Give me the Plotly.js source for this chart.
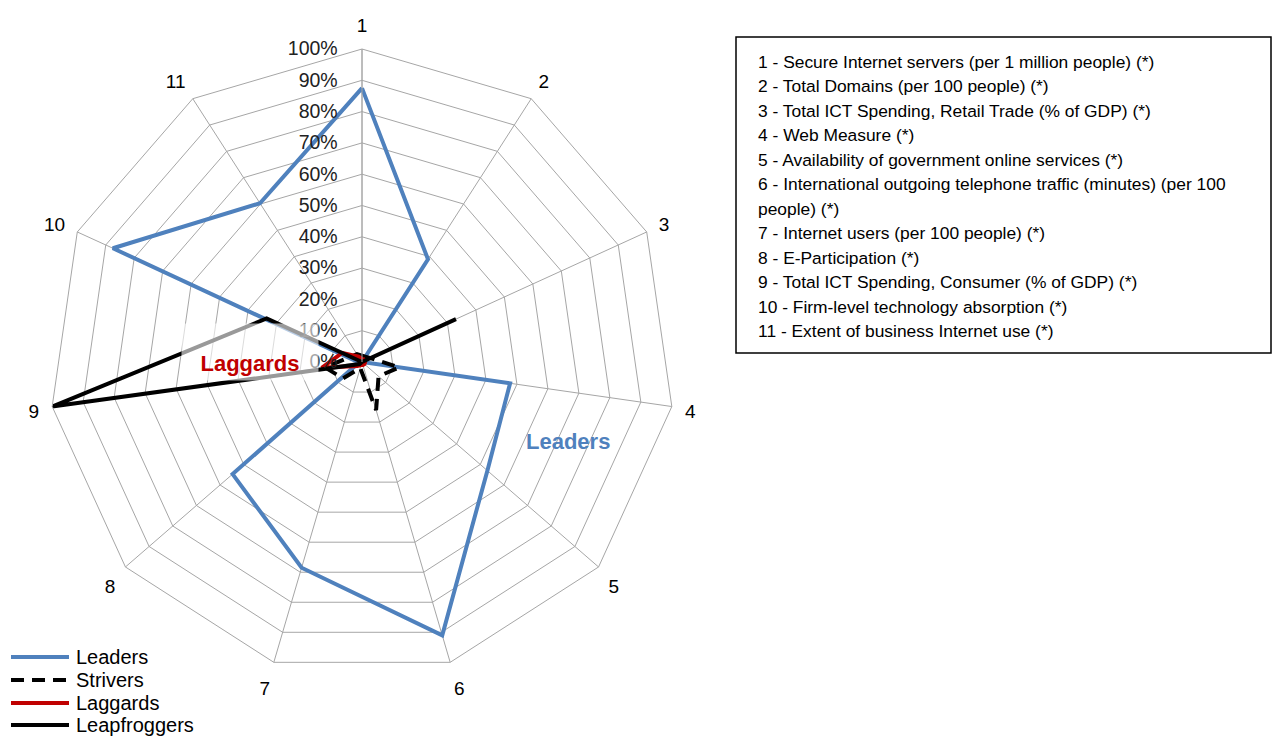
<!DOCTYPE html>
<html>
<head>
<meta charset="utf-8">
<script src="https://cdn.plot.ly/plotly-3.0.1.min.js"></script>
<style>html,body{margin:0;padding:0;background:#fff;}#chart{width:1278px;height:736px;}</style>
</head>
<body>
<div id="chart"></div>
<script>
// ---- data ----
const axisLabels = ["1","2","3","4","5","6","7","8","9","10","11"];
const leaders      = [0.875, 0.39, 0.00, 0.478, 0.53, 0.91, 0.685, 0.547, 0.01, 0.875, 0.603];
const strivers     = [0.02, 0.02, 0.03, 0.12, 0.07, 0.16, 0.02, 0.08, 0.12, 0.04, 0.03];
const laggards     = [0.01, 0.01, 0.01, 0.01, 0.01, 0.01, 0.01, 0.02, 0.13, 0.07, 0.02];
const leapfroggers = [0.00, 0.00, 0.33, 0.00, 0.00, 0.00, 0.00, 0.01, 1.00, 0.335, 0.00];
const seriesNames  = ["Leaders","Strivers","Laggards","Leapfroggers"];
const radialTicks  = [0,0.1,0.2,0.3,0.4,0.5,0.6,0.7,0.8,0.9,1.0];
const radialTickText = ["0%","10%","20%","30%","40%","50%","60%","70%","80%","90%","100%"];
const indicatorLines = [
  "1 - Secure Internet servers (per 1 million people) (*)",
  "2 - Total Domains (per 100 people) (*)",
  "3 - Total ICT Spending, Retail Trade (% of GDP) (*)",
  "4 - Web Measure (*)",
  "5 - Availability of government online services (*)",
  "6 - International outgoing telephone traffic (minutes) (per 100",
  "people) (*)",
  "7 - Internet users (per 100 people) (*)",
  "8 - E-Participation (*)",
  "9 - Total ICT Spending, Consumer (% of GDP) (*)",
  "10 - Firm-level technology absorption (*)",
  "11 - Extent of business Internet use (*)"
];

function closed(arr){ return arr.concat([arr[0]]); }
const thetaClosed = closed(axisLabels);

const styles = [
  {color:"#4F81BD", dash:"solid"},
  {color:"#000000", dash:"13px,8px"},
  {color:"#C00000", dash:"solid"},
  {color:"#000000", dash:"solid"}
];
const seriesData = [leaders, strivers, laggards, leapfroggers];

const traces = seriesData.map((d,i)=>({
  type:"scatterpolar",
  mode:"lines",
  name: seriesNames[i],
  r: closed(d),
  theta: thetaClosed,
  line:{color:styles[i].color, width:4, dash:styles[i].dash},
  hoverinfo:"skip",
  showlegend:false
}));

const W=1278, H=736;
const cx=362, cy=362, R=313;
const font = "Arial, 'Liberation Sans', sans-serif";

const annotations = [
  {xref:"paper", yref:"paper", x:250/W, y:1-352/H, xanchor:"center", yanchor:"middle",
   text:"<b>Laggards</b>", showarrow:false, font:{family:font, size:22, color:"#C00000"},
   bgcolor:"rgba(255,255,255,0.6)", borderpad:4, width:128, height:48, valign:"bottom"},
  {xref:"paper", yref:"paper", x:568/W, y:1-441/H, xanchor:"center", yanchor:"middle",
   text:"<b>Leaders</b>", showarrow:false, font:{family:font, size:22, color:"#4F81BD"}}
];
const lineStep = 24.5;
indicatorLines.forEach((t,i)=>{
  annotations.push({xref:"paper", yref:"paper", x:756/W, y:1-(62+i*lineStep)/H,
    xanchor:"left", yanchor:"middle", text:t, showarrow:false,
    font:{family:font, size:17.4, color:"#000"}});
});

// custom legend (line samples + labels)
const shapes = [
  {type:"rect", xref:"paper", yref:"paper", x0:736/W, x1:1271/W, y0:1-353/H, y1:1-37/H,
   line:{color:"#000", width:1.5}, fillcolor:"rgba(0,0,0,0)"}
];
const legendY = [657, 680, 703, 725];
seriesNames.forEach((n,i)=>{
  shapes.push({type:"line", xref:"paper", yref:"paper", x0:11/W, x1:69/W,
    y0:1-legendY[i]/H, y1:1-legendY[i]/H,
    line:{color:styles[i].color, width:4, dash:styles[i].dash}});
  annotations.push({xref:"paper", yref:"paper", x:74/W, y:1-legendY[i]/H,
    xanchor:"left", yanchor:"middle", text:n, showarrow:false,
    font:{family:font, size:20, color:"#000"}});
});

const layout = {
  width:W, height:H,
  margin:{l:0,r:0,t:0,b:0},
  paper_bgcolor:"#fff",
  showlegend:false,
  polar:{
    domain:{x:[(cx-R)/W,(cx+R)/W], y:[1-(cy+R)/H, 1-(cy-R)/H]},
    bgcolor:"rgba(0,0,0,0)",
    gridshape:"linear",
    radialaxis:{range:[0,1], tickvals:radialTicks, ticktext:radialTickText, angle:90, tickangle:90,
      side:"counterclockwise", showline:true, linecolor:"#a6a6a6", linewidth:1,
      gridcolor:"#a6a6a6", gridwidth:1, ticks:"outside", ticklen:17, tickcolor:"rgba(0,0,0,0)",
      tickfont:{family:font, size:19.5, color:"#222"}},
    angularaxis:{type:"category", categoryarray:axisLabels, direction:"clockwise", rotation:90,
      showline:true, linecolor:"#a6a6a6", linewidth:1, gridcolor:"#a6a6a6", gridwidth:1,
      ticks:"outside", ticklen:9, tickcolor:"rgba(0,0,0,0)",
      tickfont:{family:font, size:19, color:"#000"}}
  },
  shapes: shapes,
  annotations: annotations
};

Plotly.newPlot("chart", traces, layout, {displayModeBar:false, staticPlot:true});
</script>
</body>
</html>
